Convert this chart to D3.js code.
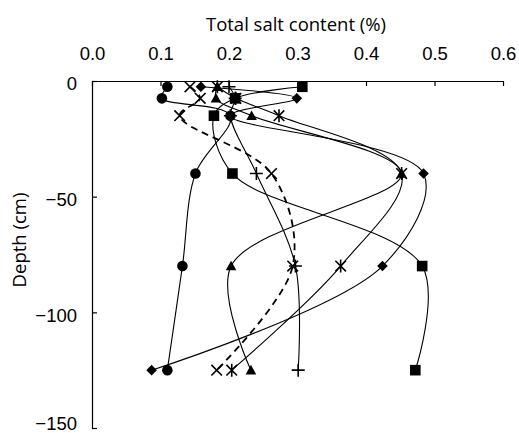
<!DOCTYPE html>
<html>
<head>
<meta charset="utf-8">
<script src="https://cdn.jsdelivr.net/npm/d3@7"></script>
<style>
  html, body { margin: 0; padding: 0; background: #fff; }
  svg { display: block; font-family: "Open Sans", "DejaVu Sans", sans-serif; }
</style>
</head>
<body>
<svg id="chart" width="519" height="433"></svg>
<script>
// Sampling depths (cm) of the soil profiles
const depths = [-2.5, -7.5, -15, -40, -80, -125];

// Total salt content (%) at each depth, one array per profile
const circleSeries   = [0.110, 0.102, 0.202, 0.151, 0.132, 0.110];
const diamondSeries  = [0.159, 0.299, 0.202, 0.484, 0.424, 0.087];
const squareSeries   = [0.307, 0.209, 0.178, 0.205, 0.482, 0.472];
const triangleSeries = [0.183, 0.181, 0.233, 0.452, 0.203, 0.232];
const starSeries     = [0.183, 0.210, 0.273, 0.452, 0.363, 0.204];
const plusSeries     = [0.200, 0.209, 0.202, 0.240, 0.297, 0.301];
const crossSeries    = [0.143, 0.158, 0.128, 0.262, 0.293, 0.182];

const xTicks = [0.0, 0.1, 0.2, 0.3, 0.4, 0.5, 0.6];
const yTicks = [0, -50, -100, -150];
const xTitle = "Total salt content (%)";
const yTitle = "Depth (cm)";

const series = [
  { values: circleSeries,   marker: "circle",   dashed: false },
  { values: diamondSeries,  marker: "diamond",  dashed: false },
  { values: squareSeries,   marker: "square",   dashed: false },
  { values: triangleSeries, marker: "triangle", dashed: false },
  { values: starSeries,     marker: "star",     dashed: false },
  { values: plusSeries,     marker: "plus",     dashed: false },
  { values: crossSeries,    marker: "cross",    dashed: true  }
];

const svg = d3.select("#chart");
const plotLeft = 92, plotRight = 503, plotTop = 81, plotBottom = 428;
const fontSize = "18.5px";

const x = d3.scaleLinear().domain([0, 0.6]).range([plotLeft, plotRight]);
const y = d3.scaleLinear().domain([0, -150]).range([plotTop, plotBottom]);

// Top value axis, ticks pointing into the plot
const xAxis = d3.axisTop(x)
  .tickValues(xTicks)
  .tickFormat(d3.format(".1f"))
  .tickSizeInner(-5)
  .tickSizeOuter(0)
  .tickPadding(21);

const gx = svg.append("g")
  .attr("transform", `translate(0,${plotTop})`)
  .call(xAxis);

// Left depth axis
const yAxis = d3.axisLeft(y)
  .tickValues(yTicks)
  .tickFormat(d => d === 0 ? "0" : "\u2212" + Math.abs(d))
  .tickSizeInner(-5)
  .tickSizeOuter(0)
  .tickPadding(15);

const gy = svg.append("g")
  .attr("transform", `translate(${plotLeft},0)`)
  .call(yAxis);

[gx, gy].forEach(g => {
  g.selectAll("path.domain").attr("stroke", "#000").attr("stroke-width", 1.2);
  g.selectAll(".tick line").attr("stroke", "#000").attr("stroke-width", 1.2);
  g.selectAll(".tick text").attr("fill", "#000").style("font-size", fontSize);
});

// depth labels sit a little below their ticks; the lowest one is kept inside the frame
gy.selectAll(".tick text")
  .attr("dy", d => d === -150 ? "0.1em" : "0.48em");

// Axis titles
svg.append("text")
  .attr("x", 296)
  .attr("y", 31)
  .attr("text-anchor", "middle")
  .style("font-size", fontSize)
  .text(xTitle);

svg.append("text")
  .attr("transform", `translate(26,240) rotate(-90)`)
  .attr("text-anchor", "middle")
  .style("font-size", fontSize)
  .text(yTitle);

// Smoothed profile lines
const line = d3.line()
  .x(d => x(d.v))
  .y(d => y(d.depth))
  .curve(d3.curveCatmullRom.alpha(0.5));

const plot = svg.append("g");

series.forEach(s => {
  const pts = s.values.map((v, i) => ({ v, depth: depths[i] }));
  plot.append("path")
    .datum(pts)
    .attr("fill", "none")
    .attr("stroke", "#000")
    .attr("stroke-width", s.dashed ? 1.8 : 1.1)
    .attr("stroke-dasharray", s.dashed ? "7,5" : null)
    .attr("d", line);
});

// Markers
function drawMarker(g, type) {
  const r = 5.3;
  switch (type) {
    case "circle":
      g.append("circle").attr("r", r).attr("fill", "#000");
      break;
    case "square":
      g.append("rect").attr("x", -r).attr("y", -r).attr("width", 2 * r).attr("height", 2 * r).attr("fill", "#000");
      break;
    case "diamond":
      g.append("path").attr("d", `M0,${-r}L${r},0L0,${r}L${-r},0Z`).attr("fill", "#000");
      break;
    case "triangle":
      g.append("path").attr("d", `M0,${-r}L${r},${r * 0.8}L${-r},${r * 0.8}Z`).attr("fill", "#000");
      break;
    case "cross":
      g.append("path").attr("d", `M${-r},${-r}L${r},${r}M${-r},${r}L${r},${-r}`)
        .attr("stroke", "#000").attr("stroke-width", 1.6);
      break;
    case "plus":
      g.append("path").attr("d", `M-6.5,0L6.5,0M0,-6.5L0,6.5`)
        .attr("stroke", "#000").attr("stroke-width", 1.6);
      break;
    case "star":
      g.append("path").attr("d", `M${-r},${-r}L${r},${r}M${-r},${r}L${r},${-r}M0,-6.5L0,6.5`)
        .attr("stroke", "#000").attr("stroke-width", 1.6);
      break;
  }
}

series.forEach(s => {
  s.values.forEach((v, i) => {
    const g = plot.append("g").attr("transform", `translate(${x(v)},${y(depths[i])})`);
    drawMarker(g, s.marker);
  });
});
</script>
</body>
</html>
